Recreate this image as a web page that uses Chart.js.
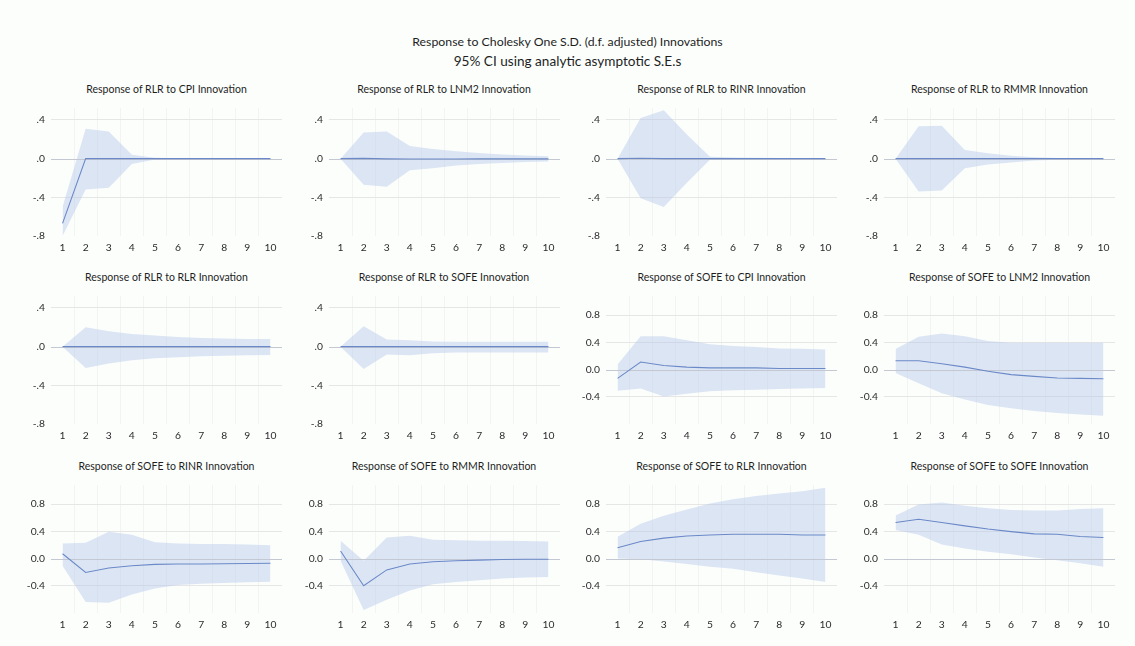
<!DOCTYPE html>
<html>
<head>
<meta charset="utf-8">
<script src="https://cdn.jsdelivr.net/npm/chart.js@4.4.1/dist/chart.umd.min.js"></script>
<style>
  html, body { margin: 0; padding: 0; background: #fcfefc; }
  body { width: 1135px; height: 646px; position: relative; overflow: hidden;
         font-family: Lato, "Open Sans", sans-serif; color: #1e1e1e; }
  .hdr { position: absolute; left: 0; width: 1135px; text-align: center; line-height: 16px; }
  .pt { position: absolute; width: 231px; text-align: center; font-size: 10.5px; line-height: 14px; color: #1e1e1e; white-space: nowrap; }
  canvas { position: absolute; }
</style>
</head>
<body>
<div class="hdr" style="top:34px;font-size:12.3px">Response to Cholesky One S.D. (d.f. adjusted) Innovations</div>
<div class="hdr" style="top:53px;font-size:13.6px">95% CI using analytic asymptotic S.E.s</div>
<div id="panels"></div>
<script>
// Horizon (periods after the shock)
const periods = ['1', '2', '3', '4', '5', '6', '7', '8', '9', '10'];

// Axis ticks for the two response variables
const rlrTickValues = [0.4, 0.0, -0.4, -0.8];
const rlrTickLabels = ['.4', '.0', '-.4', '-.8'];
const sofeTickValues = [0.8, 0.4, 0.0, -0.4];
const sofeTickLabels = ['0.8', '0.4', '0.0', '-0.4'];

// Response of RLR to CPI
const rlrCpiResp  = [-0.67, 0, 0, 0, 0, 0, 0, 0, 0, 0];
const rlrCpiUpper = [-0.50, 0.31, 0.28, 0.04, 0.01, 0.005, 0.003, 0.002, 0.001, 0.001];
const rlrCpiLower = [-0.80, -0.32, -0.30, -0.055, -0.008, -0.004, -0.003, -0.002, -0.001, -0.001];

// Response of RLR to LNM2
const rlrLnm2Resp  = [0, 0.003, -0.002, -0.003, -0.003, -0.003, -0.002, -0.002, -0.002, -0.002];
const rlrLnm2Upper = [0, 0.27, 0.28, 0.13, 0.10, 0.076, 0.058, 0.042, 0.032, 0.025];
const rlrLnm2Lower = [0, -0.27, -0.29, -0.12, -0.10, -0.072, -0.055, -0.045, -0.035, -0.03];

// Response of RLR to RINR
const rlrRinrResp  = [0, 0.005, 0, 0, 0, 0, 0, 0, 0, 0];
const rlrRinrUpper = [0, 0.42, 0.50, 0.25, 0.02, 0.012, 0.01, 0.008, 0.005, 0.004];
const rlrRinrLower = [0, -0.41, -0.50, -0.25, -0.01, -0.006, -0.005, -0.004, -0.003, -0.002];

// Response of RLR to RMMR
const rlrRmmrResp  = [0, 0, 0, 0, 0, 0, 0, 0, 0, 0];
const rlrRmmrUpper = [0, 0.335, 0.34, 0.09, 0.055, 0.03, 0.014, 0.007, 0.004, 0.002];
const rlrRmmrLower = [0, -0.34, -0.33, -0.10, -0.06, -0.04, -0.02, -0.01, -0.005, -0.003];

// Response of RLR to RLR
const rlrRlrResp  = [0, 0, 0, 0, 0, 0, 0, 0, 0, 0];
const rlrRlrUpper = [0, 0.20, 0.16, 0.13, 0.115, 0.10, 0.09, 0.085, 0.08, 0.078];
const rlrRlrLower = [0, -0.22, -0.175, -0.14, -0.12, -0.11, -0.10, -0.095, -0.088, -0.085];

// Response of RLR to SOFE
const rlrSofeResp  = [0, 0, 0, 0, 0, 0, 0, 0, 0, 0];
const rlrSofeUpper = [0, 0.21, 0.075, 0.065, 0.053, 0.05, 0.05, 0.05, 0.05, 0.05];
const rlrSofeLower = [0, -0.23, -0.08, -0.09, -0.067, -0.06, -0.06, -0.06, -0.06, -0.06];

// Response of SOFE to CPI
const sofeCpiResp  = [-0.13, 0.11, 0.06, 0.035, 0.025, 0.025, 0.025, 0.015, 0.015, 0.015];
const sofeCpiUpper = [0.075, 0.49, 0.49, 0.43, 0.37, 0.345, 0.33, 0.31, 0.305, 0.296];
const sofeCpiLower = [-0.31, -0.28, -0.395, -0.355, -0.32, -0.306, -0.296, -0.286, -0.28, -0.27];

// Response of SOFE to LNM2
const sofeLnm2Resp  = [0.13, 0.13, 0.085, 0.035, -0.025, -0.075, -0.10, -0.125, -0.13, -0.135];
const sofeLnm2Upper = [0.30, 0.48, 0.53, 0.49, 0.42, 0.395, 0.395, 0.395, 0.395, 0.395];
const sofeLnm2Lower = [-0.05, -0.20, -0.35, -0.44, -0.52, -0.57, -0.61, -0.64, -0.66, -0.68];

// Response of SOFE to RINR
const sofeRinrResp  = [0.07, -0.205, -0.14, -0.105, -0.086, -0.08, -0.08, -0.076, -0.072, -0.07];
const sofeRinrUpper = [0.22, 0.23, 0.395, 0.35, 0.24, 0.22, 0.215, 0.215, 0.205, 0.195];
const sofeRinrLower = [-0.105, -0.64, -0.65, -0.53, -0.44, -0.39, -0.37, -0.36, -0.35, -0.34];

// Response of SOFE to RMMR
const sofeRmmrResp  = [0.11, -0.40, -0.167, -0.08, -0.048, -0.033, -0.024, -0.014, -0.01, -0.01];
const sofeRmmrUpper = [0.26, -0.033, 0.31, 0.333, 0.276, 0.267, 0.26, 0.26, 0.257, 0.25];
const sofeRmmrLower = [-0.033, -0.757, -0.605, -0.47, -0.376, -0.343, -0.32, -0.295, -0.28, -0.27];

// Response of SOFE to RLR
const sofeRlrResp  = [0.157, 0.25, 0.30, 0.33, 0.345, 0.357, 0.357, 0.357, 0.345, 0.345];
const sofeRlrUpper = [0.32, 0.51, 0.63, 0.72, 0.81, 0.87, 0.92, 0.955, 0.99, 1.04];
const sofeRlrLower = [0.0, -0.01, -0.043, -0.08, -0.12, -0.15, -0.20, -0.25, -0.295, -0.343];

// Response of SOFE to SOFE
const sofeSofeResp  = [0.53, 0.576, 0.53, 0.48, 0.433, 0.395, 0.362, 0.357, 0.324, 0.31];
const sofeSofeUpper = [0.633, 0.795, 0.824, 0.776, 0.738, 0.714, 0.705, 0.705, 0.729, 0.738];
const sofeSofeLower = [0.42, 0.348, 0.205, 0.148, 0.10, 0.062, 0.014, -0.024, -0.07, -0.12];

// Panel list, in reading order (4 columns x 3 rows)
const panels = [
  { title: 'Response of RLR to CPI Innovation',    kind: 'rlr',  resp: rlrCpiResp,   upper: rlrCpiUpper,   lower: rlrCpiLower },
  { title: 'Response of RLR to LNM2 Innovation',   kind: 'rlr',  resp: rlrLnm2Resp,  upper: rlrLnm2Upper,  lower: rlrLnm2Lower },
  { title: 'Response of RLR to RINR Innovation',   kind: 'rlr',  resp: rlrRinrResp,  upper: rlrRinrUpper,  lower: rlrRinrLower },
  { title: 'Response of RLR to RMMR Innovation',   kind: 'rlr',  resp: rlrRmmrResp,  upper: rlrRmmrUpper,  lower: rlrRmmrLower },
  { title: 'Response of RLR to RLR Innovation',    kind: 'rlr',  resp: rlrRlrResp,   upper: rlrRlrUpper,   lower: rlrRlrLower },
  { title: 'Response of RLR to SOFE Innovation',   kind: 'rlr',  resp: rlrSofeResp,  upper: rlrSofeUpper,  lower: rlrSofeLower },
  { title: 'Response of SOFE to CPI Innovation',   kind: 'sofe', resp: sofeCpiResp,  upper: sofeCpiUpper,  lower: sofeCpiLower },
  { title: 'Response of SOFE to LNM2 Innovation',  kind: 'sofe', resp: sofeLnm2Resp, upper: sofeLnm2Upper, lower: sofeLnm2Lower },
  { title: 'Response of SOFE to RINR Innovation',  kind: 'sofe', resp: sofeRinrResp, upper: sofeRinrUpper, lower: sofeRinrLower },
  { title: 'Response of SOFE to RMMR Innovation',  kind: 'sofe', resp: sofeRmmrResp, upper: sofeRmmrUpper, lower: sofeRmmrLower },
  { title: 'Response of SOFE to RLR Innovation',   kind: 'sofe', resp: sofeRlrResp,  upper: sofeRlrUpper,  lower: sofeRlrLower },
  { title: 'Response of SOFE to SOFE Innovation',  kind: 'sofe', resp: sofeSofeResp, upper: sofeSofeUpper, lower: sofeSofeLower }
];

// Grid geometry
const plotLefts = [51, 328.5, 606, 884];
const plotTops = [108, 296, 485];
const plotW = 231, plotH = 128;
const yAxisW = 40, xAxisH = 22;

const lineColor = '#6b89c8';
const bandColor = 'rgba(182,201,234,0.46)';
const tickFont = { family: 'Lato, "Open Sans", sans-serif', size: 10.3 };
const tickColor = '#2a2a2a';

// Axis line at zero, drawn above the band and beneath the response line
const zeroLine = {
  id: 'zeroLine',
  beforeDatasetDraw(chart, args) {
    if (args.index !== 0) return;
    const { ctx, chartArea } = chart;
    const y = Math.round(chart.scales.y.getPixelForValue(0)) + 0.5;
    ctx.save();
    ctx.strokeStyle = '#c3c8d2';
    ctx.lineWidth = 1;
    ctx.beginPath();
    ctx.moveTo(chartArea.left, y);
    ctx.lineTo(chartArea.right, y);
    ctx.stroke();
    ctx.restore();
  }
};

const host = document.getElementById('panels');

panels.forEach((p, i) => {
  const col = i % 4, row = Math.floor(i / 4);
  const left = plotLefts[col], top = plotTops[row];

  const t = document.createElement('div');
  t.className = 'pt';
  t.style.left = left + 'px';
  t.style.top = (top - 26) + 'px';
  t.textContent = p.title;
  host.appendChild(t);

  const cv = document.createElement('canvas');
  cv.width = yAxisW + plotW;
  cv.height = plotH + xAxisH;
  cv.style.left = (left - yAxisW) + 'px';
  cv.style.top = top + 'px';
  cv.style.width = cv.width + 'px';
  cv.style.height = cv.height + 'px';
  host.appendChild(cv);

  const isRlr = p.kind === 'rlr';
  const tickValues = isRlr ? rlrTickValues : sofeTickValues;
  const tickLabels = isRlr ? rlrTickLabels : sofeTickLabels;

  new Chart(cv, {
    type: 'line',
    data: {
      labels: periods,
      datasets: [
        { data: p.resp, borderColor: lineColor, borderWidth: 1.1, pointRadius: 0, fill: false, tension: 0 },
        { data: p.upper, borderWidth: 0, borderColor: 'rgba(0,0,0,0)', pointRadius: 0, fill: '+1', backgroundColor: bandColor, tension: 0 },
        { data: p.lower, borderWidth: 0, borderColor: 'rgba(0,0,0,0)', pointRadius: 0, fill: false, tension: 0 }
      ]
    },
    options: {
      responsive: false,
      animation: false,
      devicePixelRatio: 1,
      layout: { padding: 0 },
      plugins: { legend: { display: false }, tooltip: { enabled: false }, title: { display: false } },
      scales: {
        x: {
          offset: true,
          border: { display: false },
          grid: {
            offset: true,
            drawTicks: false,
            color: (c) => (c.type === 'tick' && c.index > 0) ? 'rgba(0,0,0,0.04)' : 'rgba(0,0,0,0)'
          },
          ticks: { font: tickFont, color: tickColor, padding: 5, maxRotation: 0, autoSkip: false },
          afterFit(s) { s.height = xAxisH; s.paddingLeft = 0; s.paddingRight = 0; }
        },
        y: {
          min: -0.8,
          max: isRlr ? 0.524 : 1.08,
          border: { display: false },
          grid: {
            drawTicks: false,
            color: (c) => (c.tick && (c.tick.value === -0.8 || c.tick.value === 0)) ? 'rgba(0,0,0,0)' : '#e6e6e6'
          },
          ticks: {
            font: tickFont, color: tickColor, padding: 6,
            callback: (v) => tickLabels[tickValues.indexOf(v)]
          },
          afterBuildTicks(s) { s.ticks = tickValues.map(v => ({ value: v })); },
          afterFit(s) { s.width = yAxisW; s.paddingTop = 0; s.paddingBottom = 0; }
        }
      }
    },
    plugins: [zeroLine]
  });
});
</script>
</body>
</html>
